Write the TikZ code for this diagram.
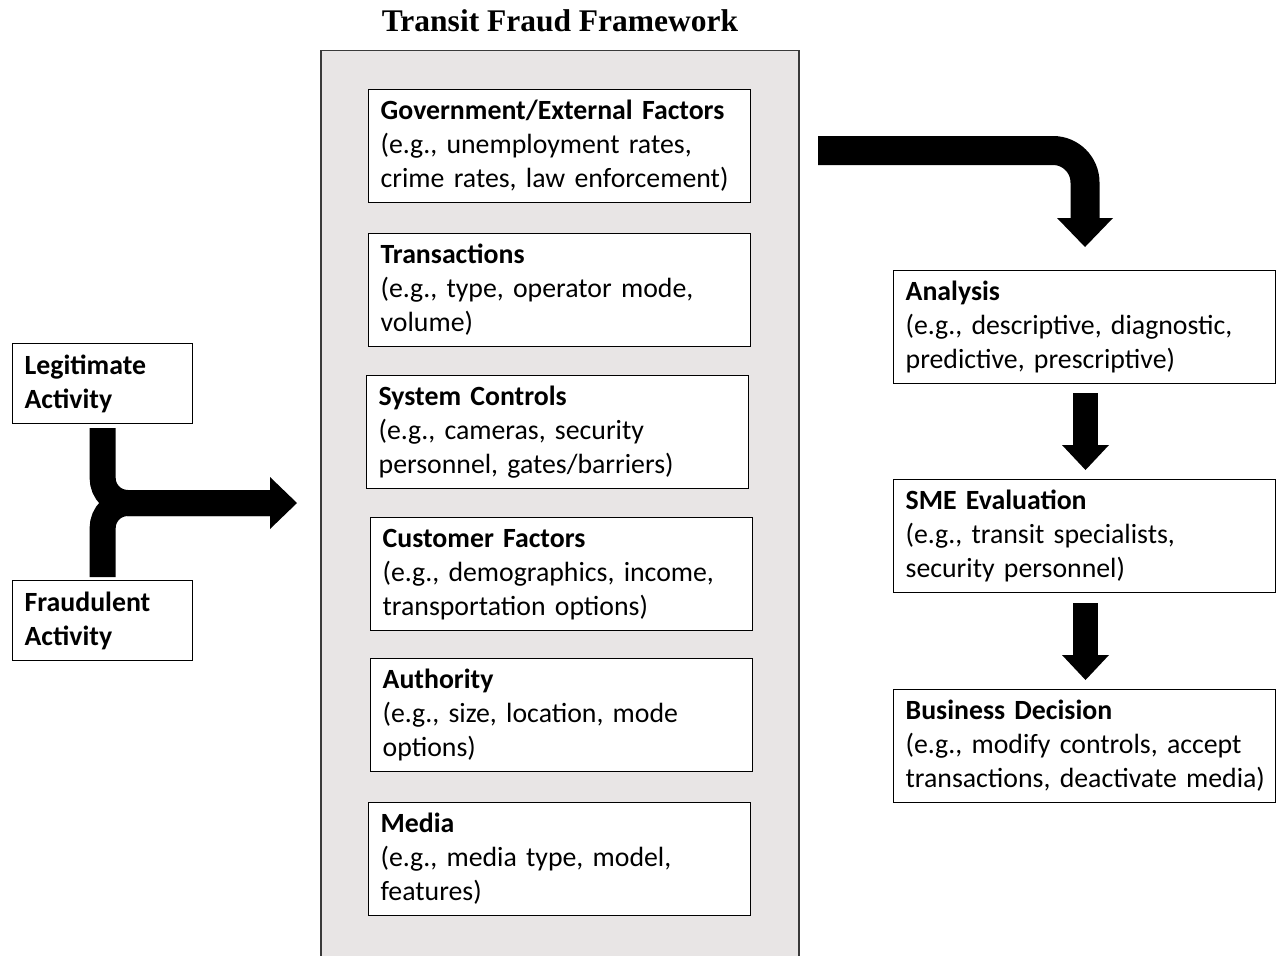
\documentclass[tikz,border=0pt]{standalone}
\usepackage{fontspec}
\setmainfont[WordSpace=0.85]{Carlito}
\newfontfamily\titlefont{Liberation Serif}
\definecolor{framebg}{HTML}{E8E5E5}
\definecolor{frameline}{HTML}{3A3A3A}
\begin{document}
\hyphenpenalty=10000
\begin{tikzpicture}[x=1pt,y=-1pt,
  box/.style={draw=black, line width=1.3pt, fill=white, inner xsep=12pt, inner ysep=0pt,
    align=left, anchor=north west, font=\fontsize{27.8}{34}\selectfont},
  midbox/.style={box, text width=358pt, minimum height=113pt},
  sidebox/.style={box, text width=156pt, minimum height=80pt},
  shaft/.style={line width=#1, draw=black},
  head/.style={fill=black, draw=none}]
\useasboundingbox (0,0) rectangle (1281,955);

% title
\node[font=\titlefont\bfseries\fontsize{31.5}{36}\selectfont] (title) at (560,21) {Transit Fraud Framework};

% framework panel
\node[draw=frameline, fill=framebg, line width=1.5pt, anchor=north west,
  minimum width=478pt, minimum height=920pt, inner sep=0pt] (frame) at (320,50) {};

\node[midbox] (gov) at (368,89) {\textbf{Government/External Factors}\\(e.g., unemployment rates,\\crime rates, law enforcement)};
\node[midbox] (trans) at (368,233) {\textbf{Transactions}\\(e.g., type, operator mode,\\volume)};
\node[midbox] (sys) at (366,375) {\textbf{System Controls}\\(e.g., cameras, security\\personnel, gates/barriers)};
\node[midbox] (cust) at (370,517) {\textbf{Customer Factors}\\(e.g., demographics, income,\\transportation options)};
\node[midbox] (auth) at (370,658) {\textbf{Authority}\\(e.g., size, location, mode\\options)};
\node[midbox] (media) at (368,802) {\textbf{Media}\\(e.g., media type, model,\\features)};

% left inputs
\node[sidebox] (leg) at (12,343) {\textbf{Legitimate}\\\textbf{Activity}};
\node[sidebox] (fra) at (12,580) {\textbf{Fraudulent}\\\textbf{Activity}};

% right chain
\node[midbox] (ana) at (893,270) {\textbf{Analysis}\\(e.g., descriptive, diagnostic,\\predictive, prescriptive)};
\node[midbox] (sme) at (893,479) {\textbf{SME Evaluation}\\(e.g., transit specialists,\\security personnel)};
\node[midbox] (biz) at (893,689) {\textbf{Business Decision}\\(e.g., modify controls, accept\\\mbox{transactions, deactivate media)}};

% merge arrow
\coordinate (mend) at (271,503);
\draw[shaft=26pt, rounded corners=25pt] (leg.south |- 0,428) |- (mend);
\draw[shaft=26pt, rounded corners=25pt] (fra.north |- 0,577) |- (mend);
\fill[head] (270,477) -- (297,503) -- (270,529) -- cycle;

% top arrow from framework to analysis
\coordinate (tstart) at (818,150.5);
\coordinate (tcorner) at (1085,150.5);
\coordinate (tend) at (1085,219);
\draw[shaft=29pt, rounded corners=32pt] (tstart) -- (tcorner) -- (tend);
\fill[head] (1057,218) -- (1113,218) -- (1085,247) -- cycle;

% analysis -> sme
\coordinate (a1) at (1085.5,393);
\coordinate (a2) at (1085.5,446);
\draw[shaft=25pt] (a1) -- (a2);
\fill[head] (1062,445) -- (1109,445) -- (1085.5,470) -- cycle;

% sme -> business
\coordinate (b1) at (1085.5,603);
\coordinate (b2) at (1085.5,656);
\draw[shaft=25pt] (b1) -- (b2);
\fill[head] (1062,655) -- (1109,655) -- (1085.5,680) -- cycle;
\end{tikzpicture}
\end{document}
